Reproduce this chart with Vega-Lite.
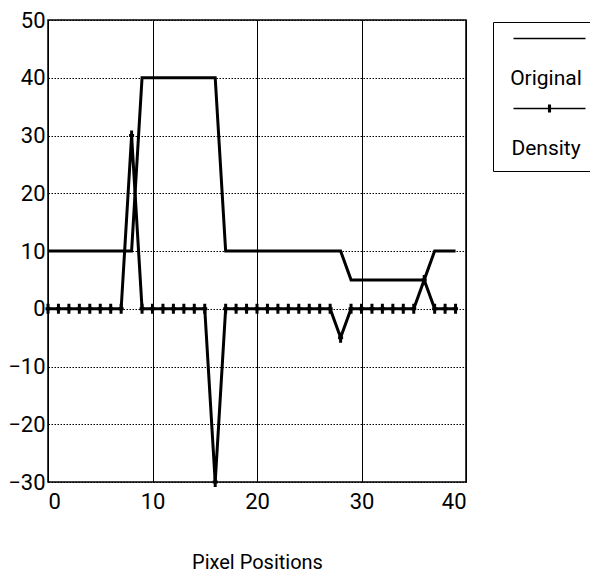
{
  "$schema": "https://vega.github.io/schema/vega-lite/v6.json",
  "autosize": {"type": "none"},
  "width": 418,
  "height": 462,
  "padding": {"left": 48, "top": 20, "right": 124, "bottom": 91},
  "background": "white",
  "config": {
    "font": "Roboto, sans-serif",
    "view": {"stroke": "black", "strokeWidth": 1.5},
    "axis": {
      "labelFont": "Roboto, sans-serif",
      "titleFont": "Roboto, sans-serif",
      "labelFontSize": 22,
      "labelColor": "black",
      "ticks": false,
      "domain": false,
      "gridColor": "black",
      "gridOpacity": 1,
      "gridWidth": 1,
      "titleColor": "black",
      "titleFontWeight": "normal"
    },
    "legend": {"labelFont": "Roboto, sans-serif"}
  },
  "data": {
    "values": [
      {"x": 0, "value": 10, "series": "Original"},
      {"x": 1, "value": 10, "series": "Original"},
      {"x": 2, "value": 10, "series": "Original"},
      {"x": 3, "value": 10, "series": "Original"},
      {"x": 4, "value": 10, "series": "Original"},
      {"x": 5, "value": 10, "series": "Original"},
      {"x": 6, "value": 10, "series": "Original"},
      {"x": 7, "value": 10, "series": "Original"},
      {"x": 8, "value": 10, "series": "Original"},
      {"x": 9, "value": 40, "series": "Original"},
      {"x": 10, "value": 40, "series": "Original"},
      {"x": 11, "value": 40, "series": "Original"},
      {"x": 12, "value": 40, "series": "Original"},
      {"x": 13, "value": 40, "series": "Original"},
      {"x": 14, "value": 40, "series": "Original"},
      {"x": 15, "value": 40, "series": "Original"},
      {"x": 16, "value": 40, "series": "Original"},
      {"x": 17, "value": 10, "series": "Original"},
      {"x": 18, "value": 10, "series": "Original"},
      {"x": 19, "value": 10, "series": "Original"},
      {"x": 20, "value": 10, "series": "Original"},
      {"x": 21, "value": 10, "series": "Original"},
      {"x": 22, "value": 10, "series": "Original"},
      {"x": 23, "value": 10, "series": "Original"},
      {"x": 24, "value": 10, "series": "Original"},
      {"x": 25, "value": 10, "series": "Original"},
      {"x": 26, "value": 10, "series": "Original"},
      {"x": 27, "value": 10, "series": "Original"},
      {"x": 28, "value": 10, "series": "Original"},
      {"x": 29, "value": 5, "series": "Original"},
      {"x": 30, "value": 5, "series": "Original"},
      {"x": 31, "value": 5, "series": "Original"},
      {"x": 32, "value": 5, "series": "Original"},
      {"x": 33, "value": 5, "series": "Original"},
      {"x": 34, "value": 5, "series": "Original"},
      {"x": 35, "value": 5, "series": "Original"},
      {"x": 36, "value": 5, "series": "Original"},
      {"x": 37, "value": 10, "series": "Original"},
      {"x": 38, "value": 10, "series": "Original"},
      {"x": 39, "value": 10, "series": "Original"},
      {"x": 0, "value": 0, "series": "Density"},
      {"x": 1, "value": 0, "series": "Density"},
      {"x": 2, "value": 0, "series": "Density"},
      {"x": 3, "value": 0, "series": "Density"},
      {"x": 4, "value": 0, "series": "Density"},
      {"x": 5, "value": 0, "series": "Density"},
      {"x": 6, "value": 0, "series": "Density"},
      {"x": 7, "value": 0, "series": "Density"},
      {"x": 8, "value": 30, "series": "Density"},
      {"x": 9, "value": 0, "series": "Density"},
      {"x": 10, "value": 0, "series": "Density"},
      {"x": 11, "value": 0, "series": "Density"},
      {"x": 12, "value": 0, "series": "Density"},
      {"x": 13, "value": 0, "series": "Density"},
      {"x": 14, "value": 0, "series": "Density"},
      {"x": 15, "value": 0, "series": "Density"},
      {"x": 16, "value": -30, "series": "Density"},
      {"x": 17, "value": 0, "series": "Density"},
      {"x": 18, "value": 0, "series": "Density"},
      {"x": 19, "value": 0, "series": "Density"},
      {"x": 20, "value": 0, "series": "Density"},
      {"x": 21, "value": 0, "series": "Density"},
      {"x": 22, "value": 0, "series": "Density"},
      {"x": 23, "value": 0, "series": "Density"},
      {"x": 24, "value": 0, "series": "Density"},
      {"x": 25, "value": 0, "series": "Density"},
      {"x": 26, "value": 0, "series": "Density"},
      {"x": 27, "value": 0, "series": "Density"},
      {"x": 28, "value": -5, "series": "Density"},
      {"x": 29, "value": 0, "series": "Density"},
      {"x": 30, "value": 0, "series": "Density"},
      {"x": 31, "value": 0, "series": "Density"},
      {"x": 32, "value": 0, "series": "Density"},
      {"x": 33, "value": 0, "series": "Density"},
      {"x": 34, "value": 0, "series": "Density"},
      {"x": 35, "value": 0, "series": "Density"},
      {"x": 36, "value": 5, "series": "Density"},
      {"x": 37, "value": 0, "series": "Density"},
      {"x": 38, "value": 0, "series": "Density"},
      {"x": 39, "value": 0, "series": "Density"}
    ]
  },
  "encoding": {
    "x": {
      "field": "x",
      "type": "quantitative",
      "scale": {"domain": [0, 40], "nice": false},
      "axis": {
        "values": [0, 10, 20, 30, 40],
        "title": "Pixel Positions",
        "titleFontSize": 20,
        "titlePadding": 40,
        "labelPadding": 9,
        "grid": true,
        "gridDash": []
      }
    },
    "y": {
      "field": "value",
      "type": "quantitative",
      "scale": {"domain": [-30, 50], "nice": false},
      "axis": {
        "values": [-30, -20, -10, 0, 10, 20, 30, 40, 50],
        "title": null,
        "labelPadding": 3,
        "grid": true,
        "gridDash": [1.5, 1.5]
      }
    }
  },
  "layer": [
    {
      "mark": {"type": "line", "color": "black", "strokeWidth": 3},
      "encoding": {"detail": {"field": "series"}}
    },
    {
      "transform": [{"filter": "datum.series == 'Density'"}],
      "mark": {
        "type": "point",
        "shape": "M0,-1V1M-0.5,0H0.5",
        "filled": false,
        "stroke": "black",
        "strokeWidth": 3,
        "size": 100,
        "opacity": 1
      }
    },
    {
      "transform": [{"filter": "false"}],
      "mark": {"type": "point", "filled": false, "stroke": "black", "strokeWidth": 1.5, "opacity": 1},
      "encoding": {
        "shape": {
          "field": "series",
          "type": "nominal",
          "scale": {
            "domain": ["Original", "Density"],
            "range": ["M-0.5,-1.5H17.5", "M-0.5,-1.5H17.5M8.5,-2.5V-0.5M8.3,-2.5V-0.5M8.7,-2.5V-0.5"]
          },
          "legend": {
            "title": null,
            "orient": "none",
            "legendX": 445,
            "legendY": 2,
            "strokeColor": "black",
            "fillColor": "white",
            "padding": 12,
            "symbolSize": 64,
            "symbolStrokeWidth": 1.5,
            "symbolStrokeColor": "black",
            "symbolFillColor": "transparent",
            "labelFontSize": 21,
            "labelColor": "black",
            "labelAlign": "center",
            "labelBaseline": "top",
            "labelOffset": 20,
            "labelExpr": "['', datum.label]",
            "rowPadding": 12
          }
        }
      }
    }
  ]
}
